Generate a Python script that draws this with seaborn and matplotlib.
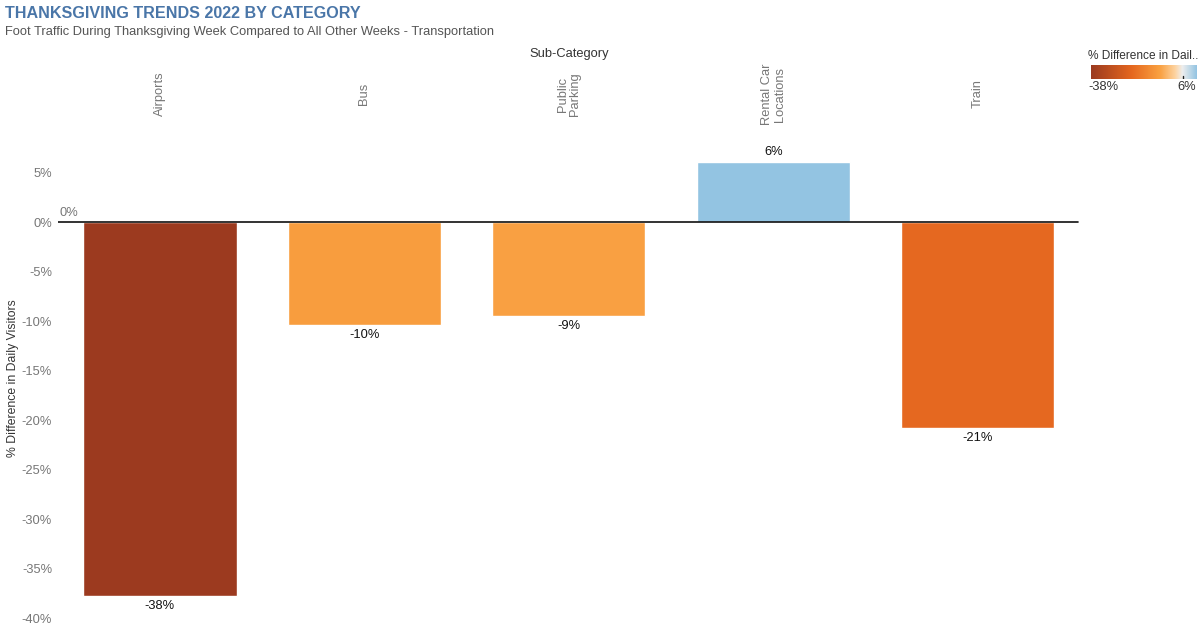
import numpy as np
import matplotlib
matplotlib.use("Agg")
import matplotlib.pyplot as plt
import matplotlib.colors as mcolors
import matplotlib.transforms as mtransforms
import seaborn as sns

## Data
categories = ["Airports", "Bus", "Public\nParking", "Rental Car\nLocations", "Train"]
pct_diff = [-37.8, -10.4, -9.5, 6.1, -20.8]
bar_labels = ["-38%", "-10%", "-9%", "6%", "-21%"]
y_ticks = [5, 0, -5, -10, -15, -20, -25, -30, -35, -40]
legend_min, legend_max = -38, 6

sns.set_theme(style="white")
plt.rcParams["font.family"] = ["Liberation Sans", "DejaVu Sans"]
FS = 9.3

## Colour ramp (orange-blue diverging, like the reference)
cmap = mcolors.LinearSegmentedColormap.from_list(
    "ob",
    [(0.0, "#9b3a1f"), (17 / 44, "#e5671f"), (28 / 44, "#f99f3f"),
     (29 / 44, "#f9a245"), (35 / 44, "#fdd3a0"), (38 / 44, "#eeeeee"),
     (1.0, "#93c4e2")])
norm = mcolors.Normalize(vmin=legend_min, vmax=legend_max)
bar_colors = [cmap(norm(v)) for v in pct_diff]

fig = plt.figure(figsize=(12, 6.33), dpi=100)
ax = fig.add_axes([0.048, 0.0126, 0.852, 0.7504])

sns.barplot(x=categories, y=pct_diff, hue=categories, palette=bar_colors,
            legend=False, width=0.75, saturation=1, ax=ax)

for cont, lab in zip(ax.containers, bar_labels):
    ax.bar_label(cont, labels=[lab], padding=3, fontsize=FS, color="#111111")

ax.set_ylim(-40.7, 7.3)
ax.set_xlim(-0.5, 4.5)
ax.set_yticks(y_ticks)
ax.set_yticklabels([f"{t}%" for t in y_ticks], color="#777777", fontsize=FS)
ax.set_xticks([])
ax.set_xlabel("")
ax.set_ylabel("% Difference in Daily Visitors", fontsize=8.8, color="#333333")
ax.yaxis.set_label_coords(-0.038, 0.52)
ax.tick_params(axis="y", length=0, pad=4)
for s in ax.spines.values():
    s.set_visible(False)

# zero reference line
ax.axhline(0, color="#111111", lw=1.2, xmin=0, xmax=0.998)
ax.text(-0.49, 0.35, "0%", color="#777777", fontsize=FS, va="bottom", ha="left")

# column headers on top
trans = mtransforms.blended_transform_factory(ax.transData, fig.transFigure)
for i, cat in enumerate(categories):
    ax.text(i, 1 - 94 / 633, cat, transform=trans, rotation=90, ha="center",
            va="center", fontsize=FS, color="#777777", linespacing=1.05)
fig.text(0.474, 1 - 54 / 633, "Sub-Category", ha="center", va="center",
         fontsize=FS, color="#333333")

# titles
fig.text(0.004, 1 - 14 / 633, "THANKSGIVING TRENDS 2022 BY CATEGORY", fontsize=11.6,
         fontweight="bold", color="#4a76a8", va="center", ha="left")
fig.text(0.004, 1 - 32 / 633,
         "Foot Traffic During Thanksgiving Week Compared to All Other Weeks - Transportation",
         fontsize=FS, color="#555555", va="center", ha="left")

# colour legend
cax = fig.add_axes([1091 / 1200, 1 - 79 / 633, 106 / 1200, 14 / 633])
grad = np.linspace(legend_min, legend_max, 256).reshape(1, -1)
cax.imshow(grad, aspect="auto", cmap=cmap, norm=norm,
           extent=[legend_min, legend_max, 0, 1])
cax.plot([0, 0], [0, 0.2], color="#222222", lw=1)
cax.set_xticks([])
cax.set_yticks([])
for s in cax.spines.values():
    s.set_visible(False)
fig.text(1088 / 1200, 1 - 56 / 633, "% Difference in Dail..", fontsize=8.6,
         color="#333333", va="center", ha="left")
fig.text(1103 / 1200, 1 - 87 / 633, f"{legend_min}%", fontsize=FS,
         color="#333333", va="center", ha="center")
fig.text(1187 / 1200, 1 - 87 / 633, f"{legend_max}%", fontsize=FS,
         color="#333333", va="center", ha="center")

plt.savefig("out.png", dpi=100)
